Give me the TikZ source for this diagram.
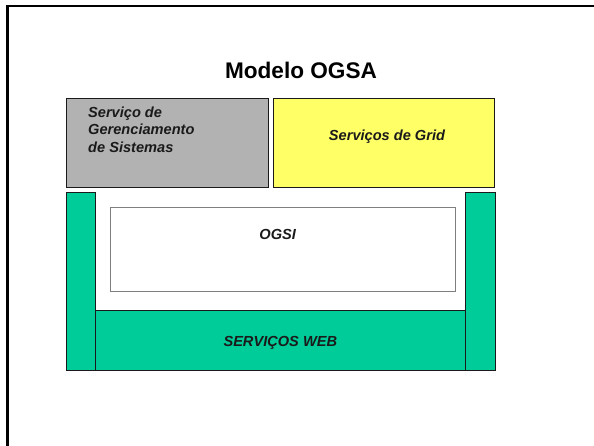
\documentclass[tikz,border=0pt]{standalone}
\usepackage{fontspec}
\setmainfont{Liberation Sans}
\usepackage{xcolor}
\usetikzlibrary{positioning}
\definecolor{ink}{HTML}{1A1A1A}
\definecolor{edgegray}{HTML}{7F7F7F}
\definecolor{mgmtgray}{HTML}{B2B2B2}
\definecolor{gridyellow}{HTML}{FFFF66}
\definecolor{webgreen}{HTML}{00CC99}
\tikzset{
  layerbox/.style={draw=ink,line width=0.8pt,inner sep=0pt,outer sep=0pt},
  mgmtbox/.style={layerbox,fill=mgmtgray},
  gridbox/.style={layerbox,fill=gridyellow},
  webbox/.style={layerbox,fill=webgreen},
  ogsibox/.style={draw=edgegray,fill=white,line width=0.9pt,inner sep=0pt},
  boxlabel/.style={font=\fontsize{14.6}{17.5}\selectfont\bfseries\itshape,
                   inner sep=0pt,text=ink},
  titlelabel/.style={font=\fontsize{22.6}{26}\selectfont\bfseries,inner sep=0pt},
  slideframe/.style={draw=black,line width=2.5pt}
}

\begin{document}
\begin{tikzpicture}[x=1pt,y=-1pt]
  \useasboundingbox (0,0) rectangle (594,445);
  \clip (0,0) rectangle (594,445);
  \draw[slideframe] (7.5,6) rectangle (640,480);

  \node[titlelabel] (title) at (301,70.5) {Modelo OGSA};

  % upper row
  \node[mgmtbox,minimum width=202,minimum height=89] (mgmt) at (167,142.5) {};
  \node[gridbox,minimum width=221,minimum height=89] (grid) at (383.5,142.5) {};
  \node[boxlabel,align=left,anchor=base west] (mgmtlbl) at (88,152)
    {Serviço de\\Gerenciamento\\de Sistemas};
  \node[boxlabel,anchor=base] (gridlbl) at (387,140.7) {Serviços de Grid};

  % web services layer
  \node[webbox,minimum width=370,minimum height=60] (web) at (280,340) {};
  \node[webbox,minimum width=29,minimum height=178] (webl) at (80.5,281) {};
  \node[webbox,minimum width=30,minimum height=178] (webr) at (480,281) {};
  \node[boxlabel,anchor=base] (weblbl) at (280.3,346.3) {SERVIÇOS WEB};

  % OGSI
  \node[ogsibox,minimum width=345,minimum height=84] (ogsi) at (282.5,249) {};
  \node[boxlabel,anchor=base] (ogsilbl) at (277.7,239.3) {OGSI};
\end{tikzpicture}
\end{document}
